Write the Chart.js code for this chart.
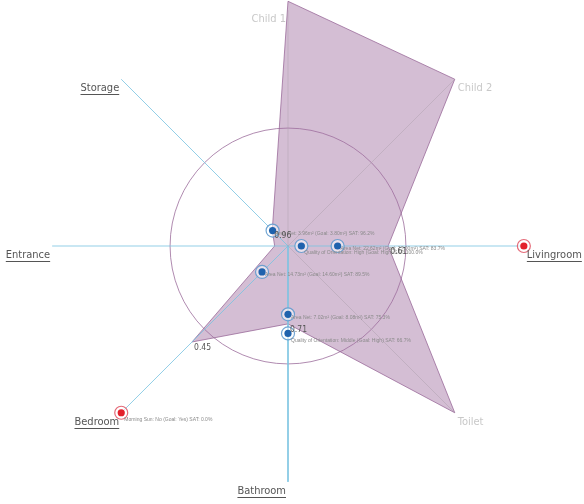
<!DOCTYPE html>
<html>
<head>
<meta charset="utf-8">
<script src="https://cdn.jsdelivr.net/npm/chart.js@4.4.1/dist/chart.umd.min.js"></script>
<style>
  html, body { margin: 0; padding: 0; background: #fff; }
  #wrap { width: 584px; height: 504px; position: relative; }
</style>
</head>
<body>
<div id="wrap"><canvas id="c"></canvas></div>
<script>
// Room axes, clockwise from the top
const rooms = ['Child 1', 'Child 2', 'Livingroom', 'Toilet', 'Bathroom', 'Bedroom', 'Entrance', 'Storage'];
const roomActive = [false, false, true, false, true, true, true, true];
// Overall satisfaction per room (1 = fully satisfied, sits at the centre)
const roomScores = [-0.04, 0, 0.61, 0, 0.71, 0.45, 1.0, 0.96];
const roomScoreLabels = ['', '', '0.61', '', '0.71', '0.45', '', '0.96'];

// Single criteria placed on the room spokes
const criteriaRoom = [7, 2, 2, 2, 5, 5, 4, 4];
const criteriaSat = [0.962, 1.0, 0.837, 0, 0.895, 0, 0.753, 0.667];
const criteriaText = [
  'Area Net: 3.96m\u00b2 (Goal: 3.80m\u00b2) SAT: 96.2%',
  'Quality of Orientation: High (Goal: High) SAT: 100.0%',
  'Area Net: 22.62m\u00b2 (Goal: 27.00m\u00b2) SAT: 83.7%',
  '',
  'Area Net: 14.73m\u00b2 (Goal: 14.60m\u00b2) SAT: 89.5%',
  'Morning Sun: No (Goal: Yes) SAT: 0.0%',
  'Area Net: 7.02m\u00b2 (Goal: 8.08m\u00b2) SAT: 75.3%',
  'Quality of Orientation: Middle (Goal: High) SAT: 66.7%'
];

// Reference ring
const threshold = 0.53;
// Score that maps to the centre of the diagram (scale is reversed)
const scoreMax = 1.06;

// Canvas geometry
const W = 584, H = 504, CX = 288, CY = 246, PX = 222.5;

function toXY(i, v) {
  const r = scoreMax - v;
  const a = Math.PI / 2 - i * Math.PI / 4;
  return { x: r * Math.cos(a), y: r * Math.sin(a) };
}

const datasets = [];

// Criteria dots (blue = satisfied to some degree, red = failed)
const dotPts = criteriaRoom.map((ri, k) => toXY(ri, criteriaSat[k]));
const isFail = criteriaSat.map(s => s === 0);
datasets.push({
  data: dotPts,
  pointRadius: 3.6,
  pointBorderWidth: 0,
  pointBackgroundColor: isFail.map(f => f ? '#e3202b' : '#1f62ad'),
  order: 0, clip: false
});
datasets.push({
  data: dotPts,
  pointRadius: 6.5,
  pointBorderWidth: 1.2,
  pointBackgroundColor: 'rgba(255,255,255,0.55)',
  pointBorderColor: isFail.map(f => f ? 'rgba(225,90,105,0.9)' : 'rgba(90,150,205,0.85)'),
  order: 1, clip: false
});

// Spokes
rooms.forEach((name, i) => {
  datasets.push({
    data: [toXY(i, scoreMax), toXY(i, 0)],
    showLine: true,
    pointRadius: 0,
    borderWidth: 1,
    borderColor: roomActive[i] ? 'rgba(120,195,225,0.8)' : 'rgba(160,150,160,0.35)',
    order: 2, clip: false
  });
});

// Room score polygon
const poly = roomScores.map((v, i) => toXY(i, v));
poly.push(poly[0]);
datasets.push({
  data: poly,
  showLine: true,
  pointRadius: 0,
  borderWidth: 1,
  borderColor: 'rgba(150,100,150,0.75)',
  backgroundColor: 'rgba(160,110,160,0.45)',
  fill: 'shape',
  tension: 0,
  order: 3, clip: false
});

const ringPlugin = {
  id: 'thresholdRing',
  beforeDatasetsDraw(chart) {
    const { ctx, scales: { x, y } } = chart;
    const cx = x.getPixelForValue(0), cy = y.getPixelForValue(0);
    const rad = x.getPixelForValue(scoreMax - threshold) - cx;
    ctx.save();
    ctx.beginPath();
    ctx.arc(cx, cy, rad, 0, Math.PI * 2);
    ctx.strokeStyle = 'rgba(150,100,150,0.75)';
    ctx.lineWidth = 1;
    ctx.stroke();
    ctx.restore();
  }
};

const labelPlugin = {
  id: 'roomLabels',
  afterDatasetsDraw(chart) {
    const { ctx, scales: { x, y } } = chart;
    const px = p => ({ x: x.getPixelForValue(p.x), y: y.getPixelForValue(p.y) });
    ctx.save();
    ctx.textBaseline = 'middle';

    // room names at the spoke ends
    ctx.font = '11px "DejaVu Sans Condensed", "DejaVu Sans", sans-serif';
    rooms.forEach((name, i) => {
      const end = px(toXY(i, 0));
      const a = Math.PI / 2 - i * Math.PI / 4;
      const right = Math.cos(a) > 0.01;
      ctx.textAlign = right ? 'left' : 'right';
      const color = roomActive[i] ? '#555' : '#c8c8c8';
      ctx.fillStyle = color;
      const tx = end.x + (right ? 3 : -2), ty = end.y + 9;
      ctx.fillText(name, tx, ty);
      if (roomActive[i]) {
        const w = ctx.measureText(name).width;
        const x0 = right ? tx : tx - w;
        ctx.strokeStyle = color;
        ctx.lineWidth = 1;
        ctx.beginPath();
        ctx.moveTo(x0, Math.round(ty + 6) + 0.5);
        ctx.lineTo(x0 + w, Math.round(ty + 6) + 0.5);
        ctx.stroke();
      }
    });

    // criteria notes: area notes sit beside the dot, the others just below it
    ctx.textAlign = 'left';
    ctx.font = '5px "Liberation Sans", Arial, sans-serif';
    ctx.fillStyle = '#8a8a8a';
    dotPts.forEach((p, k) => {
      const t = criteriaText[k];
      if (!t) return;
      const q = px(p);
      const dy = t.startsWith('Area') ? 3 : 7;
      ctx.fillText(t, q.x + 3, q.y + dy);
    });

    // room score values
    ctx.font = '8.5px "DejaVu Sans Condensed", "DejaVu Sans", sans-serif';
    ctx.fillStyle = '#555';
    roomScores.forEach((v, i) => {
      if (!roomScoreLabels[i]) return;
      const q = px(toXY(i, v));
      ctx.fillText(roomScoreLabels[i], q.x + 2, q.y + 6);
    });
    ctx.restore();
  }
};

new Chart(document.getElementById('c'), {
  type: 'scatter',
  data: { datasets },
  options: {
    responsive: true,
    maintainAspectRatio: false,
    animation: false,
    layout: { padding: 0, autoPadding: false },
    plugins: { legend: { display: false }, tooltip: { enabled: false } },
    scales: {
      x: { type: 'linear', display: false, min: -CX / PX, max: (W - CX) / PX },
      y: { type: 'linear', display: false, min: -(H - CY) / PX, max: CY / PX }
    }
  },
  plugins: [ringPlugin, labelPlugin]
});
</script>
</body>
</html>
